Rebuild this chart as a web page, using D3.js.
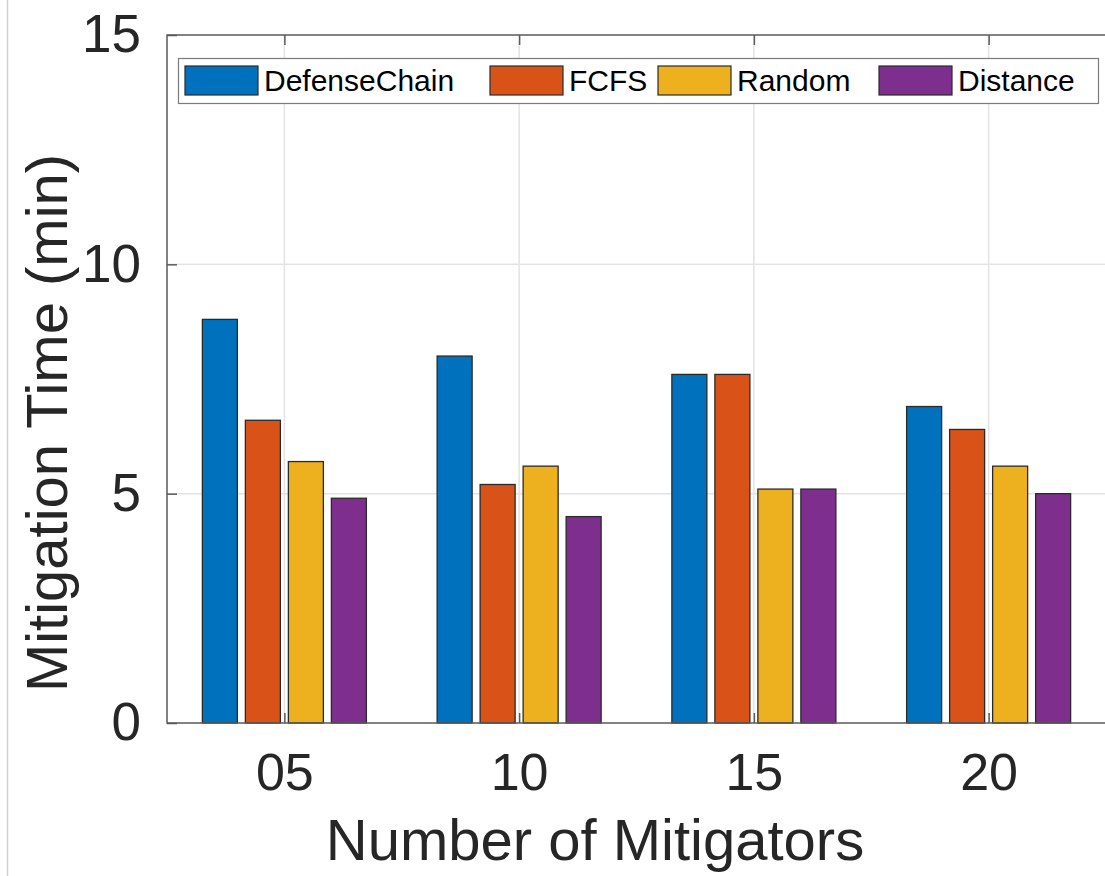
<!DOCTYPE html>
<html>
<head>
<meta charset="utf-8">
<script src="https://cdn.jsdelivr.net/npm/d3@7"></script>
<style>
  html, body { margin: 0; padding: 0; background: #fff; }
  svg { display: block; font-family: "Liberation Sans", Arial, Helvetica, sans-serif; }
</style>
</head>
<body>
<svg id="chart" width="1105" height="876"></svg>
<script>
// Mitigation time per strategy, grouped by number of mitigators
const categories = ["05", "10", "15", "20"];
const seriesNames = ["DefenseChain", "FCFS", "Random", "Distance"];
const defenseChain = [8.8, 8.0, 7.6, 6.9];
const fcfs = [6.6, 5.2, 7.6, 6.4];
const randomSel = [5.7, 5.6, 5.1, 5.6];
const distance = [4.9, 4.5, 5.1, 5.0];
const yTicks = [0, 5, 10, 15];
const colors = ["#0072BD", "#D95319", "#EDB120", "#7E2F8E"];

const seriesValues = [defenseChain, fcfs, randomSel, distance];

(function () {
  const svg = d3.select("#chart");
  const plotL = 167, plotR = 1106, plotT = 35, plotB = 723;

  // thin frame line along the left page edge
  svg.append("line")
    .attr("x1", 7.5).attr("x2", 7.5).attr("y1", 0).attr("y2", 876)
    .attr("stroke", "#cfcfcf").attr("stroke-width", 1.5);

  const x = d3.scaleBand().domain(categories).range([plotL, plotR]).padding(0);
  const half = 86;
  const xInner = d3.scaleBand().domain(seriesNames)
    .range([-half, half]).paddingInner(0.186).paddingOuter(0.093);
  const y = d3.scaleLinear().domain([0, 15]).range([plotB, plotT]);

  // plot background
  svg.append("rect").attr("x", plotL).attr("y", plotT)
    .attr("width", plotR - plotL).attr("height", plotB - plotT).attr("fill", "#fff");

  // grid
  const grid = svg.append("g").attr("stroke", "#e3e3e3").attr("stroke-width", 1.5);
  categories.forEach(c => {
    const cx = x(c) + x.bandwidth() / 2;
    grid.append("line").attr("x1", cx).attr("x2", cx).attr("y1", plotT).attr("y2", plotB);
  });
  yTicks.filter(t => t > 0 && t < 15).forEach(t => {
    grid.append("line").attr("x1", plotL).attr("x2", plotR).attr("y1", y(t)).attr("y2", y(t));
  });

  // bars
  categories.forEach((c, i) => {
    const cx = x(c) + x.bandwidth() / 2;
    seriesNames.forEach((s, j) => {
      const v = seriesValues[j][i];
      svg.append("rect")
        .attr("x", cx + xInner(s))
        .attr("y", y(v))
        .attr("width", xInner.bandwidth())
        .attr("height", y(0) - y(v))
        .attr("fill", colors[j])
        .attr("stroke", "#2a2a2a")
        .attr("stroke-width", 1.3);
    });
  });

  // axes box
  const axisColor = "#5a5a5a";
  svg.append("rect").attr("x", plotL).attr("y", plotT)
    .attr("width", plotR - plotL).attr("height", plotB - plotT)
    .attr("fill", "none").attr("stroke", axisColor).attr("stroke-width", 1.5);

  // y axis with inward ticks
  const yAxis = d3.axisLeft(y).tickValues(yTicks).tickSizeInner(-10).tickSizeOuter(0).tickPadding(26);
  const gy = svg.append("g").attr("transform", `translate(${plotL},0)`).call(yAxis);
  gy.select(".domain").remove();
  gy.selectAll(".tick line").attr("stroke", axisColor).attr("stroke-width", 1.5);
  gy.selectAll(".tick text")
    .attr("font-size", 53).attr("fill", "#262626")
    .attr("font-family", "Liberation Sans, Arial, sans-serif");

  // x axis with inward ticks (bottom and mirrored at top)
  const xCenter = d3.scalePoint().domain(categories)
    .range([x(categories[0]) + x.bandwidth() / 2, x(categories[categories.length - 1]) + x.bandwidth() / 2]);
  const xAxis = d3.axisBottom(xCenter).tickSizeInner(-10).tickSizeOuter(0).tickPadding(30);
  const gx = svg.append("g").attr("transform", `translate(0,${plotB})`).call(xAxis);
  gx.select(".domain").remove();
  gx.selectAll(".tick line").attr("stroke", axisColor).attr("stroke-width", 1.5);
  gx.selectAll(".tick text")
    .attr("font-size", 52).attr("fill", "#262626")
    .attr("font-family", "Liberation Sans, Arial, sans-serif");

  const gxTop = svg.append("g").attr("transform", `translate(0,${plotT})`)
    .call(d3.axisTop(xCenter).tickSizeInner(-10).tickSizeOuter(0).tickFormat(""));
  gxTop.select(".domain").remove();
  gxTop.selectAll(".tick line").attr("stroke", axisColor).attr("stroke-width", 1.5);

  // axis titles
  svg.append("text")
    .attr("x", 595).attr("y", 860)
    .attr("text-anchor", "middle")
    .attr("font-size", 58).attr("fill", "#262626")
    .text("Number of Mitigators");

  svg.append("text")
    .attr("transform", "translate(67,423) rotate(-90)")
    .attr("text-anchor", "middle")
    .attr("font-size", 58).attr("fill", "#262626")
    .text("Mitigation Time (min)");

  // legend
  const legend = svg.append("g");
  legend.append("rect")
    .attr("x", 178.5).attr("y", 58.5).attr("width", 920).attr("height", 45)
    .attr("fill", "#fff").attr("stroke", "#7a7a7a").attr("stroke-width", 1.2);
  const swatchX = [185, 490, 658, 879];
  seriesNames.forEach((s, j) => {
    legend.append("rect")
      .attr("x", swatchX[j]).attr("y", 66)
      .attr("width", 73).attr("height", 29)
      .attr("fill", colors[j]).attr("stroke", "#2a2a2a").attr("stroke-width", 1.2);
    legend.append("text")
      .attr("x", swatchX[j] + 79).attr("y", 91)
      .attr("font-size", 30).attr("fill", "#000")
      .text(s);
  });
})();
</script>
</body>
</html>
